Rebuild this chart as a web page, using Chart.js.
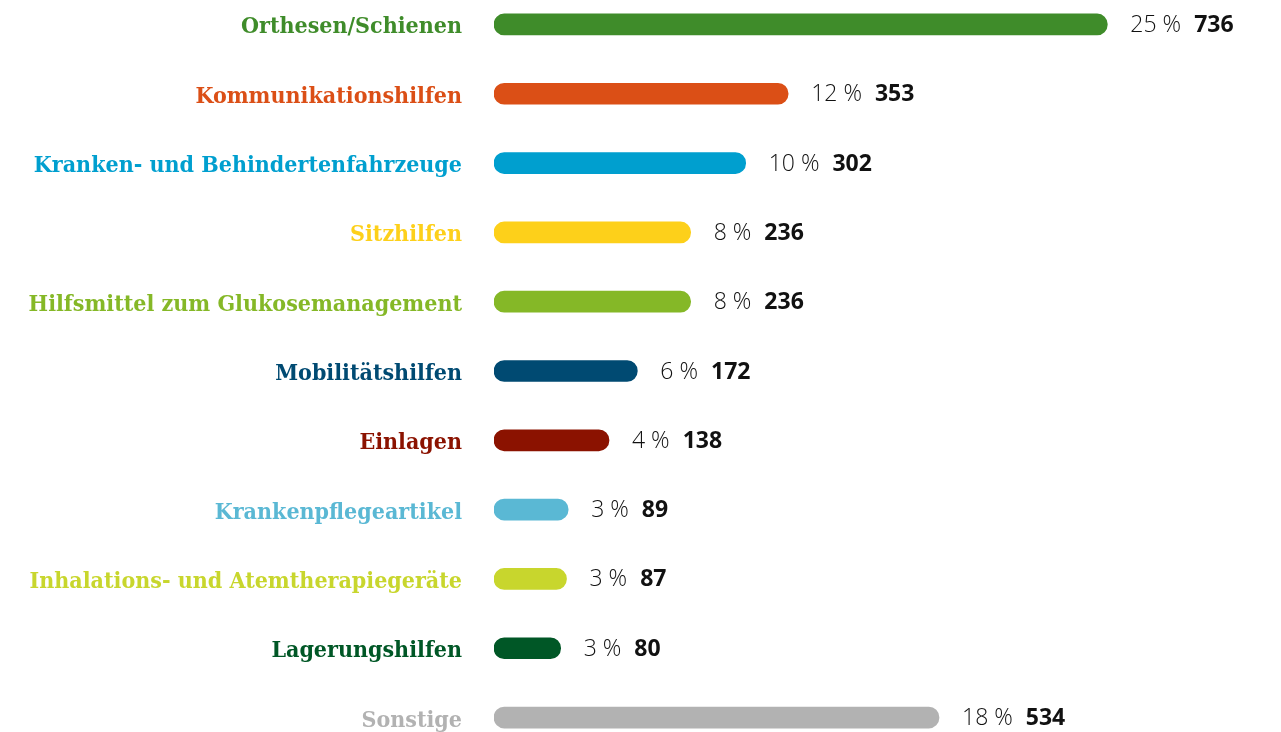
<!DOCTYPE html>
<html lang="de">
<head>
  <meta charset="UTF-8">
  <title>Hilfsmittel nach Produktgruppen</title>
  <script src="https://cdn.jsdelivr.net/npm/chart.js"></script>
  <style>
    html, body {
      margin: 0;
      padding: 0;
      background: #ffffff;
      overflow: hidden;
    }
    /* die letzte Zeile ist im Original unten angeschnitten */
    #wrap {
      position: absolute;
      left: 0;
      top: -56px;
      width: 1281px;
      height: 854px;
    }
  </style>
</head>
<body>
<div id="wrap">
  <canvas id="chart"></canvas>
</div>

<script>
  // Daten
  const kategorien = [
    'Orthesen/Schienen',
    'Kommunikationshilfen',
    'Kranken- und Behindertenfahrzeuge',
    'Sitzhilfen',
    'Hilfsmittel zum Glukosemanagement',
    'Mobilitätshilfen',
    'Einlagen',
    'Krankenpflegeartikel',
    'Inhalations- und Atemtherapiegeräte',
    'Lagerungshilfen',
    'Sonstige'
  ];
  const anzahl = [736, 353, 302, 236, 236, 172, 138, 89, 87, 80, 534];
  const prozent = [25, 12, 10, 8, 8, 6, 4, 3, 3, 3, 18];
  const farben = [
    '#3f8c2a', '#db4f16', '#009fcf', '#fdd01a', '#85b827', '#004a72',
    '#8b1200', '#5ab8d4', '#c8d62d', '#005726', '#b2b2b2'
  ];

  // Prozent und Anzahl rechts neben den Balken
  const wertePlugin = {
    id: 'werte',
    afterDatasetsDraw(chart) {
      const ctx = chart.ctx;
      const meta = chart.getDatasetMeta(0);
      ctx.save();
      ctx.textBaseline = 'middle';
      ctx.fillStyle = '#111111';
      meta.data.forEach((bar, i) => {
        let x = bar.x + 23;
        const y = bar.y + 1;
        ctx.font = '300 23px "Open Sans"';
        const pText = prozent[i] + ' %';
        ctx.fillText(pText, x, y);
        x += ctx.measureText(pText).width + 13;
        ctx.font = 'bold 23px "Open Sans"';
        ctx.fillText(String(anzahl[i]), x, y);
      });
      ctx.restore();
    }
  };

  new Chart(document.getElementById('chart'), {
    type: 'bar',
    data: {
      labels: kategorien,
      datasets: [{
        data: anzahl,
        backgroundColor: farben,
        barThickness: 21,
        borderRadius: 11,
        borderSkipped: false
      }]
    },
    options: {
      indexAxis: 'y',
      responsive: true,
      maintainAspectRatio: false,
      animation: false,
      layout: { padding: { left: 0, right: 37, top: 0, bottom: 0 } },
      plugins: {
        legend: { display: false },
        tooltip: { enabled: false }
      },
      scales: {
        x: {
          display: false,
          min: 0,
          max: 900
        },
        y: {
          afterFit(scale) { scale.width = 494; },
          grid: { display: false, drawTicks: false },
          border: { display: false },
          ticks: {
            padding: 32,
            labelOffset: 3,
            font: { family: '"DejaVu Serif Condensed", "DejaVu Serif", serif', weight: 'bold', size: 23 },
            color: (c) => farben[c.index]
          }
        }
      }
    },
    plugins: [wertePlugin]
  });
</script>
</body>
</html>
